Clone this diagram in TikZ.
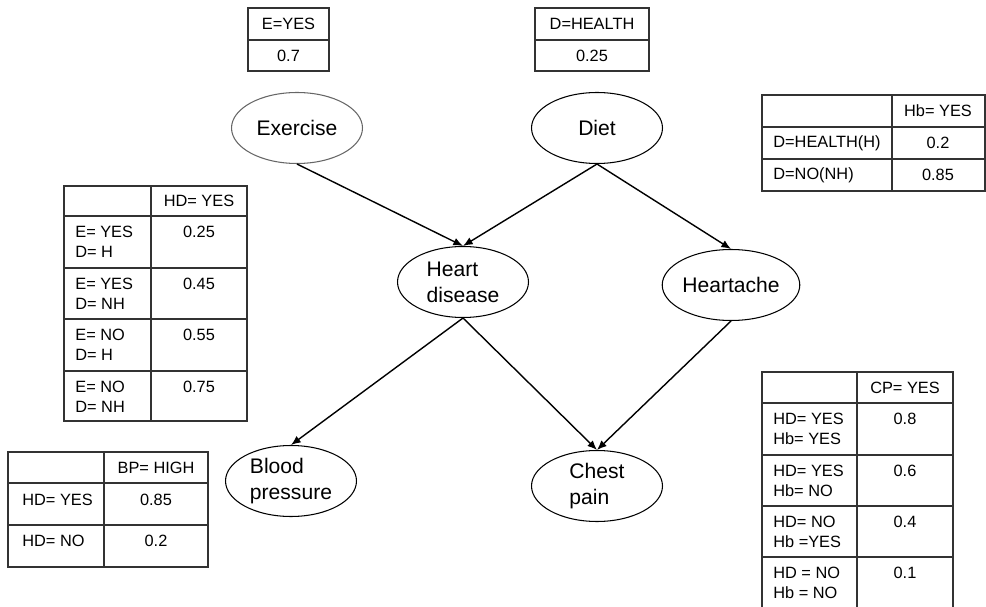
\documentclass[tikz,border=0pt]{standalone}
\usepackage{fontspec}
\setmainfont{Liberation Sans}
\usetikzlibrary{arrows.meta,shapes.geometric}
\tikzset{every node/.append style={align=center}}

\begin{document}
\begin{tikzpicture}[x=0.02cm, y=-0.02cm,
  varnode/.style={ellipse, draw, line width=0.6pt, minimum width=2.62cm,
    minimum height=1.42cm, inner sep=0pt, align=left,
    font=\fontsize{12}{14.7}\selectfont},
  link/.style={-{Latex[length=5.5pt,width=4.5pt]}, line width=0.8pt},
  cpt/.style={line width=0.6pt, draw=black!80},
  cell/.style={inner sep=0pt, align=left, font=\fontsize{9.3}{11.3}\selectfont}]

  \useasboundingbox (0,0) rectangle (986,607);

  % Variables
  \node[varnode, draw=black!60] (exercise) at (297,128) {Exercise};
  \node[varnode] (diet)      at (597,128) {Diet};
  \node[varnode] (heartdis)  at (463,282) {Heart\\disease};
  \node[varnode] (heartache) at (731,285) {Heartache};
  \node[varnode] (bloodp)    at (291,481) {Blood\\pressure};
  \node[varnode] (chestp)    at (597,486) {Chest\\pain};

  % Dependencies
  \draw[link] (exercise.south) -- (heartdis.north);
  \draw[link] (diet.south) -- (heartdis.north);
  \draw[link] (diet.south) -- (heartache.north);
  \draw[link] (heartdis.south) -- (bloodp.north);
  \draw[link] (heartdis.south) -- (chestp.north);
  \draw[link] (heartache.south) -- (chestp.north);

  % P(E)
  \draw[cpt] (248,8) rectangle (329,71);
  \draw[cpt] (248,40) -- (329,40);
  \node[cell] (eHead) at (288.5,24) {E=YES};
  \node[cell] (eVal)  at (288.5,56) {0.7};

  % P(D)
  \draw[cpt] (535,8) rectangle (649,71);
  \draw[cpt] (535,40) -- (649,40);
  \node[cell] (dHead) at (592,24) {D=HEALTH};
  \node[cell] (dVal)  at (592,56) {0.25};

  % P(Hb | D)
  \draw[cpt] (762,95) rectangle (985,191);
  \draw[cpt] (892,95) -- (892,191);
  \draw[cpt] (762,127) -- (985,127);
  \draw[cpt] (762,159) -- (985,159);
  \node[cell] (hbHead) at (938,111) {Hb= YES};
  \node[cell, anchor=west] (hbC1) at (773,143) {D=HEALTH(H)};
  \node[cell] (hbV1) at (938,143) {0.2};
  \node[cell, anchor=west] (hbC2) at (773,175) {D=NO(NH)};
  \node[cell] (hbV2) at (938,175) {0.85};

  % P(HD | E, D)
  \draw[cpt] (64,186) rectangle (247,421);
  \draw[cpt] (151,186) -- (151,421);
  \foreach \y in {216,268,319,371}
    \draw[cpt] (64,\y) -- (247,\y);
  \node[cell] (hdHead) at (199,201) {HD= YES};
  \node[cell, anchor=north west] (hdC1) at (75,226) {E= YES\\D= H};
  \node[cell, anchor=north] (hdV1) at (199,226) {0.25};
  \node[cell, anchor=north west] (hdC2) at (75,278) {E= YES\\D= NH};
  \node[cell, anchor=north] (hdV2) at (199,278) {0.45};
  \node[cell, anchor=north west] (hdC3) at (75,329) {E= NO\\D= H};
  \node[cell, anchor=north] (hdV3) at (199,329) {0.55};
  \node[cell, anchor=north west] (hdC4) at (75,381) {E= NO\\D= NH};
  \node[cell, anchor=north] (hdV4) at (199,381) {0.75};

  % P(BP | HD)
  \draw[cpt] (8,452) rectangle (208,567);
  \draw[cpt] (104,452) -- (104,567);
  \draw[cpt] (8,483) -- (208,483);
  \draw[cpt] (8,525) -- (208,525);
  \node[cell] (bpHead) at (156,468) {BP= HIGH};
  \node[cell, anchor=north west] (bpC1) at (22,494) {HD= YES};
  \node[cell, anchor=north] (bpV1) at (156,494) {0.85};
  \node[cell, anchor=north west] (bpC2) at (22,535) {HD= NO};
  \node[cell, anchor=north] (bpV2) at (156,535) {0.2};

  % P(CP | HD, Hb)
  \draw[cpt] (762,607) -- (762,372) -- (953,372) -- (953,607);
  \draw[cpt] (857,372) -- (857,607);
  \foreach \y in {403,455,506,557}
    \draw[cpt] (762,\y) -- (953,\y);
  \node[cell] (cpHead) at (905,388) {CP= YES};
  \node[cell, anchor=north west] (cpC1) at (773,413) {HD= YES\\Hb= YES};
  \node[cell, anchor=north] (cpV1) at (905,413) {0.8};
  \node[cell, anchor=north west] (cpC2) at (773,465) {HD= YES\\Hb= NO};
  \node[cell, anchor=north] (cpV2) at (905,465) {0.6};
  \node[cell, anchor=north west] (cpC3) at (773,516) {HD= NO\\Hb =YES};
  \node[cell, anchor=north] (cpV3) at (905,516) {0.4};
  \node[cell, anchor=north west] (cpC4) at (773,567) {HD = NO\\Hb = NO};
  \node[cell, anchor=north] (cpV4) at (905,567) {0.1};

\end{tikzpicture}
\end{document}
